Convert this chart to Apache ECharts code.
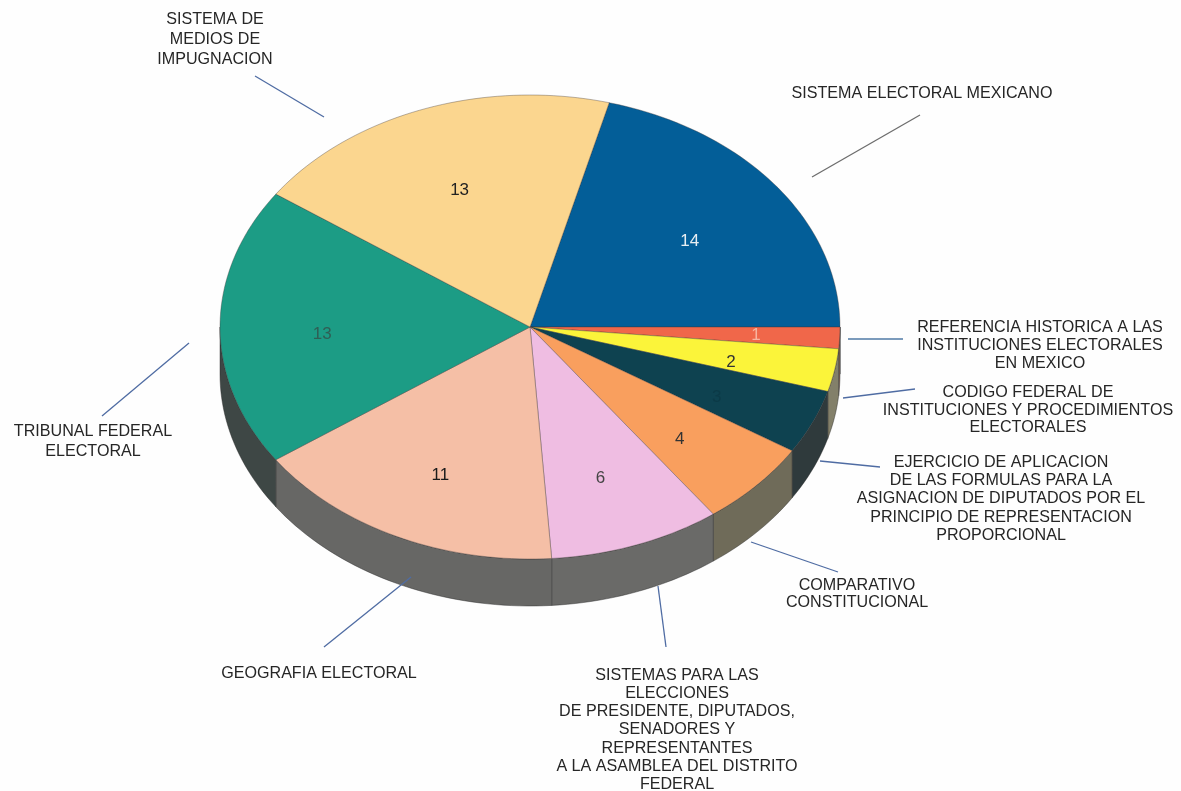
<!DOCTYPE html>
<html><head><meta charset="utf-8">
<style>html,body{margin:0;padding:0;background:#fefefe}#c{width:1181px;height:791px}</style>
<script src="https://cdn.jsdelivr.net/npm/echarts@6/dist/echarts.min.js"></script>
</head><body><div id="c"></div>
<script>
const categories = [
  "SISTEMA ELECTORAL MEXICANO",
  "REFERENCIA HISTORICA A LAS\nINSTITUCIONES ELECTORALES\nEN MEXICO",
  "CODIGO FEDERAL DE\nINSTITUCIONES Y PROCEDIMIENTOS\nELECTORALES",
  "EJERCICIO DE APLICACION\nDE LAS FORMULAS PARA LA\nASIGNACION DE DIPUTADOS POR EL\nPRINCIPIO DE REPRESENTACION\nPROPORCIONAL",
  "COMPARATIVO\nCONSTITUCIONAL",
  "SISTEMAS PARA LAS\nELECCIONES\nDE PRESIDENTE, DIPUTADOS,\nSENADORES Y\nREPRESENTANTES\nA LA ASAMBLEA DEL DISTRITO\nFEDERAL",
  "GEOGRAFIA ELECTORAL",
  "TRIBUNAL FEDERAL\nELECTORAL",
  "SISTEMA DE\nMEDIOS DE\nIMPUGNACION"
];
const values = [14, 1, 2, 3, 4, 6, 11, 13, 13];
const topColors = ["#035e98", "#f0674a", "#fbf43a", "#0e4250", "#f99f5e", "#efbde2", "#f5bfa6", "#1c9c85", "#fbd68f"];
const sideColors = ["#035e98", "#8a6a58", "#83806a", "#2f3a3c", "#6f6b59", "#6a6a68", "#676765", "#3e4745", "#888"];
const valueColors = ["#e8eef2", "#f7b5a0", "#333", "#0c3a47", "#333", "#444", "#1a1a1a", "#2f5f55", "#222"];

const CX = 530, CY = 327, RX = 310, RY = 232, DEPTH = 47, START = 14.8;
const total = values.reduce((a, b) => a + b, 0);
const rad = d => d * Math.PI / 180;
const pt = (t, r = 1, dy = 0) => [CX + RX * r * Math.sin(rad(t)), CY - RY * r * Math.cos(rad(t)) + dy];
function span(i) {
  let s = START;
  for (let k = 0; k < i; k++) s += values[k] / total * 360;
  return [s, s + values[i] / total * 360];
}
function arc(a, b, dy) {
  const n = Math.max(2, Math.ceil((b - a) / 1.5)), out = [];
  for (let k = 0; k <= n; k++) out.push(pt(a + (b - a) * k / n, 1, dy));
  return out;
}
function renderSide(params) {
  const i = params.dataIndex, [a0, b0] = span(i);
  const a = Math.max(a0, 90), b = Math.min(b0, 270);
  if (b <= a) return { type: 'group', children: [] };
  const pts = arc(a, b, 0).concat(arc(a, b, DEPTH).reverse());
  return { type: 'polygon', shape: { points: pts },
    style: { fill: sideColors[i], stroke: 'rgba(40,40,40,0.55)', lineWidth: 0.8 } };
}
const labelRadius = [0.65, 0.73, 0.66, 0.66, 0.66, 0.66, 0.67, 0.67, 0.66];
const labelDrop = [6, 0.5, 7, 7.5, 7.5, 7.5, 8, 7.5, 7];
function renderTop(params) {
  const i = params.dataIndex, [a, b] = span(i);
  const mid = (a + b) / 2, p = pt(mid, labelRadius[i], labelDrop[i]);
  return { type: 'group', children: [
    { type: 'polygon', shape: { points: [[CX, CY]].concat(arc(a, b, 0)) },
      style: { fill: topColors[i], stroke: 'rgba(60,50,50,0.45)', lineWidth: 0.8 } },
    { type: 'text', z2: 10, x: p[0], y: p[1],
      style: { text: String(values[i]), fill: valueColors[i], font: '17px "Liberation Sans", Arial, sans-serif', align: 'center', verticalAlign: 'middle' } }
  ] };
}
const labelAt = [[922,94],[1040,345.5],[1028,410.5],[1001,499],[857,594],[677,730],[319,674],[93,441.5],[215,40]];
const labelLead = [20,18,17.5,18.3,16.5,18.1,18,20,20];
const lineColor = "#4f6ca3";
const leaders = [
  [[920,115],[812,177],"#6d6d6d"],[[848,339],[903,339],"#4f7aa6"],[[843,398],[915,389],lineColor],
  [[820,461],[880,467],lineColor],[[751,542],[838,572],lineColor],[[658,586],[666,647],lineColor],
  [[411,577],[324,647],lineColor],[[189,343],[102,416],lineColor],[[255,76],[324,117],lineColor]
];
const graphics = [];
categories.forEach((c, i) => {
  const l = leaders[i];
  graphics.push({ type: 'line', z: 100, shape: { x1: l[0][0], y1: l[0][1], x2: l[1][0], y2: l[1][1] }, style: { stroke: l[2], lineWidth: 1.3 } });
  graphics.push({ type: 'text', z: 100, x: labelAt[i][0], y: labelAt[i][1],
    style: { text: c, fill: '#262626', font: '16.1px "Liberation Sans", Arial, sans-serif', align: 'center', verticalAlign: 'middle', lineHeight: labelLead[i] } });
});
const chart = echarts.init(document.getElementById('c'), null, { renderer: 'canvas' });
chart.setOption({
  backgroundColor: '#fefefe',
  animation: false,
  graphic: graphics,
  series: [
    { type: 'custom', coordinateSystem: 'none', renderItem: renderSide, data: values, z: 1 },
    { type: 'custom', coordinateSystem: 'none', renderItem: renderTop, data: values, z: 2 }
  ]
});
</script></body></html>
